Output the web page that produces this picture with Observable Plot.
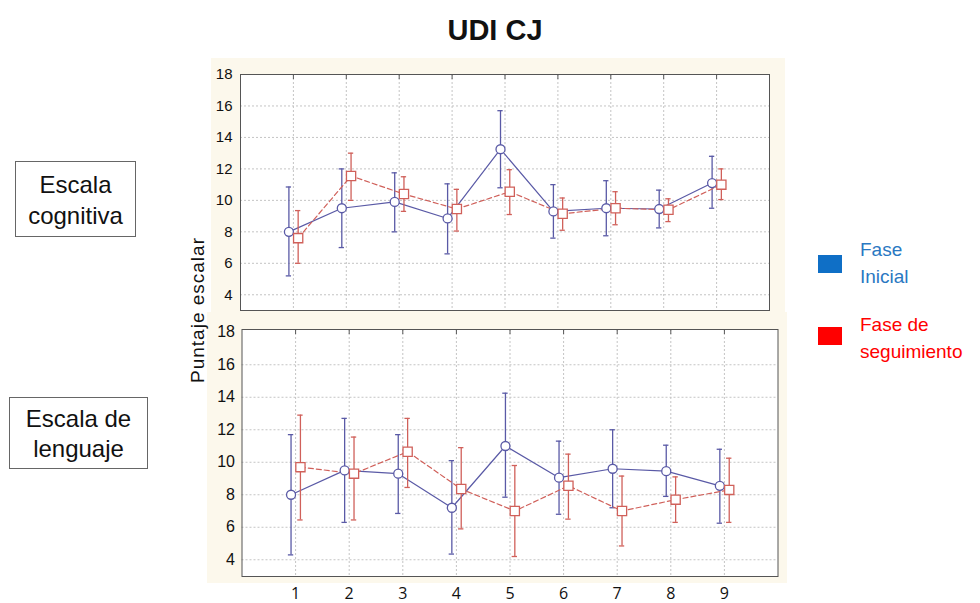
<!DOCTYPE html>
<html>
<head>
<meta charset="utf-8">
<script src="https://cdn.jsdelivr.net/npm/d3@7"></script>
<script src="https://cdn.jsdelivr.net/npm/@observablehq/plot@0.6"></script>
<style>
  body { margin: 0; background: #fff; }
  #root { position: relative; width: 980px; height: 603px; overflow: hidden; font-family: "Liberation Sans", Arial, sans-serif; }
  .abs { position: absolute; }
  .cream { background: #fcf8ec; }
  .box { border: 1px solid #666; background: #fff; color: #111; font-size: 24px; text-align: center; box-sizing: border-box; }
  .leg { font-size: 19px; line-height: 27px; font-family: "Liberation Sans", Arial, sans-serif; }
</style>
</head>
<body>
<div id="root">
  <div class="abs" style="left:0;top:14px;width:990px;text-align:center;font-weight:bold;font-size:29px;color:#111;">UDI CJ</div>
  <div class="abs cream" style="left:211px;top:58px;width:574px;height:254px;"></div>
  <div class="abs cream" style="left:207px;top:312px;width:580px;height:271px;"></div>
  <div id="top" class="abs" style="left:210px;top:58px;"></div>
  <div id="bot" class="abs" style="left:207px;top:312px;"></div>
  <div class="abs box" style="left:15px;top:161px;width:121px;height:76px;line-height:31px;padding-top:7px;">Escala<br>cognitiva</div>
  <div class="abs box" style="left:9px;top:397px;width:139px;height:72px;line-height:30px;padding-top:6px;">Escala de<br>lenguaje</div>
  <div class="abs" style="left:198px;top:310px;width:0;height:0;">
    <div style="position:absolute;transform:translate(-50%,-50%) rotate(-90deg);white-space:nowrap;font-size:19px;letter-spacing:1px;color:#111;">Puntaje escalar</div>
  </div>
  <div class="abs" style="left:818px;top:255px;width:24px;height:18px;background:#0f6fc6;"></div>
  <div class="abs leg" style="left:860px;top:236px;color:#2a78c2;">Fase<br>Inicial</div>
  <div class="abs" style="left:818px;top:327px;width:24px;height:18px;background:#ff0000;"></div>
  <div class="abs leg" style="left:860px;top:311px;color:#ff0000;">Fase de<br>seguimiento</div>
</div>
<script>
// ---- data ----
const groups = [1, 2, 3, 4, 5, 6, 7, 8, 9];
const series = ["Fase Inicial", "Fase de seguimiento"];

const cogInicial   = [8.0, 9.5, 9.9, 8.85, 13.25, 9.3, 9.5, 9.45, 11.1];
const cogInicialLo = [5.2, 7.0, 8.0, 6.6, 10.8, 7.6, 7.75, 8.25, 9.5];
const cogInicialHi = [10.85, 12.0, 11.75, 11.05, 15.7, 11.0, 11.25, 10.65, 12.8];
const cogSeg       = [7.6, 11.55, 10.4, 9.45, 10.55, 9.15, 9.5, 9.4, 11.0];
const cogSegLo     = [6.0, 10.0, 9.3, 8.05, 9.1, 8.1, 8.45, 8.65, 10.05];
const cogSegHi     = [9.35, 13.0, 11.5, 10.7, 11.95, 10.15, 10.55, 10.1, 12.0];

const lenInicial   = [8.0, 9.5, 9.3, 7.2, 11.0, 9.05, 9.6, 9.45, 8.55];
const lenInicialLo = [4.3, 6.3, 6.85, 4.35, 7.85, 6.8, 7.2, 7.9, 6.25];
const lenInicialHi = [11.7, 12.7, 11.7, 10.1, 14.25, 11.3, 12.0, 11.05, 10.8];
const lenSeg       = [9.7, 9.3, 10.65, 8.35, 7.0, 8.55, 7.0, 7.7, 8.3];
const lenSegLo     = [6.45, 6.45, 8.45, 5.9, 4.2, 6.5, 4.85, 6.3, 6.3];
const lenSegHi     = [12.9, 11.55, 12.7, 10.9, 9.8, 10.5, 9.15, 9.1, 10.25];

const yTicks = [4, 6, 8, 10, 12, 14, 16, 18];
const xTicks = groups;

// ---- styling / layout ----
const colors = {"Fase Inicial": "#5a5aa6", "Fase de seguimiento": "#d0605a"};
const offsets = {"Fase Inicial": -0.085, "Fase de seguimiento": 0.09};
const capHalf = 0.05;

function rows(vals, lo, hi, s) {
  return groups.map((g, i) => ({g, x: g + offsets[s], v: vals[i], lo: lo[i], hi: hi[i], s}));
}

function panel(data, opts) {
  const ini = data.filter(d => d.s === series[0]);
  const seg = data.filter(d => d.s === series[1]);
  const marks = [
    Plot.frame({fill: "white", stroke: null}),
    Plot.gridX(xTicks, {stroke: "#c4c4c4", strokeOpacity: 1, strokeDasharray: "2,2"}),
    Plot.gridY(yTicks.filter(t => t < 18), {stroke: "#c4c4c4", strokeOpacity: 1, strokeDasharray: "2,2"}),
    Plot.frame({stroke: "#555", strokeWidth: 1}),
    Plot.axisY(yTicks, {tickSize: 0, tickPadding: opts.yPad, fontSize: opts.yFont, fill: "#111", label: null, fontFamily: "Liberation Sans, Arial, sans-serif"}),
    Plot.axisX(xTicks, {anchor: "top", tickSize: 4, dy: 4, tickFormat: () => "", label: null, stroke: "#555"}),
  ];
  if (opts.xLabels) {
    marks.push(Plot.axisX(xTicks, {anchor: "bottom", tickSize: 0, tickPadding: 11, fontSize: 16, fill: "#111", label: null, fontFamily: "Open Sans, sans-serif"}));
  }
  for (const [d, s, dash] of [[ini, series[0], null], [seg, series[1], "5,3"]]) {
    marks.push(
      Plot.line(d, {x: "x", y: "v", stroke: colors[s], strokeWidth: 1.2, strokeDasharray: dash}),
      Plot.ruleX(d, {x: "x", y1: "lo", y2: "hi", stroke: colors[s], strokeWidth: 1.3}),
      Plot.ruleY(d, {y: "lo", x1: r => r.x - capHalf, x2: r => r.x + capHalf, stroke: colors[s], strokeWidth: 1.3}),
      Plot.ruleY(d, {y: "hi", x1: r => r.x - capHalf, x2: r => r.x + capHalf, stroke: colors[s], strokeWidth: 1.3})
    );
  }
  marks.push(
    Plot.dot(ini, {x: "x", y: "v", r: 4.5, symbol: "circle", fill: "white", stroke: colors[series[0]], strokeWidth: 1.3}),
    Plot.dot(seg, {x: "x", y: "v", r: 5.2, symbol: "square", fill: "white", stroke: colors[series[1]], strokeWidth: 1.3})
  );
  return Plot.plot({
    width: opts.width, height: opts.height,
    marginLeft: opts.ml, marginRight: opts.mr, marginTop: opts.mt, marginBottom: opts.mb,
    style: {background: "transparent"},
    x: {domain: [0, 10], axis: null},
    y: {domain: opts.yDomain, axis: null},
    marks
  });
}

const cogData = [...rows(cogInicial, cogInicialLo, cogInicialHi, series[0]), ...rows(cogSeg, cogSegLo, cogSegHi, series[1])];
const lenData = [...rows(lenInicial, lenInicialLo, lenInicialHi, series[0]), ...rows(lenSeg, lenSegLo, lenSegHi, series[1])];

document.getElementById("top").appendChild(panel(cogData, {
  width: 575, height: 254, ml: 30, mr: 16, mt: 16, mb: 2, yDomain: [3, 18], yPad: 8, yFont: 15, xLabels: false
}));
document.getElementById("bot").appendChild(panel(lenData, {
  width: 580, height: 291, ml: 34.5, mr: 9.5, mt: 17, mb: 27, yDomain: [2.97, 18.17], yPad: 7, yFont: 16, xLabels: true
}));
</script>
</body>
</html>
